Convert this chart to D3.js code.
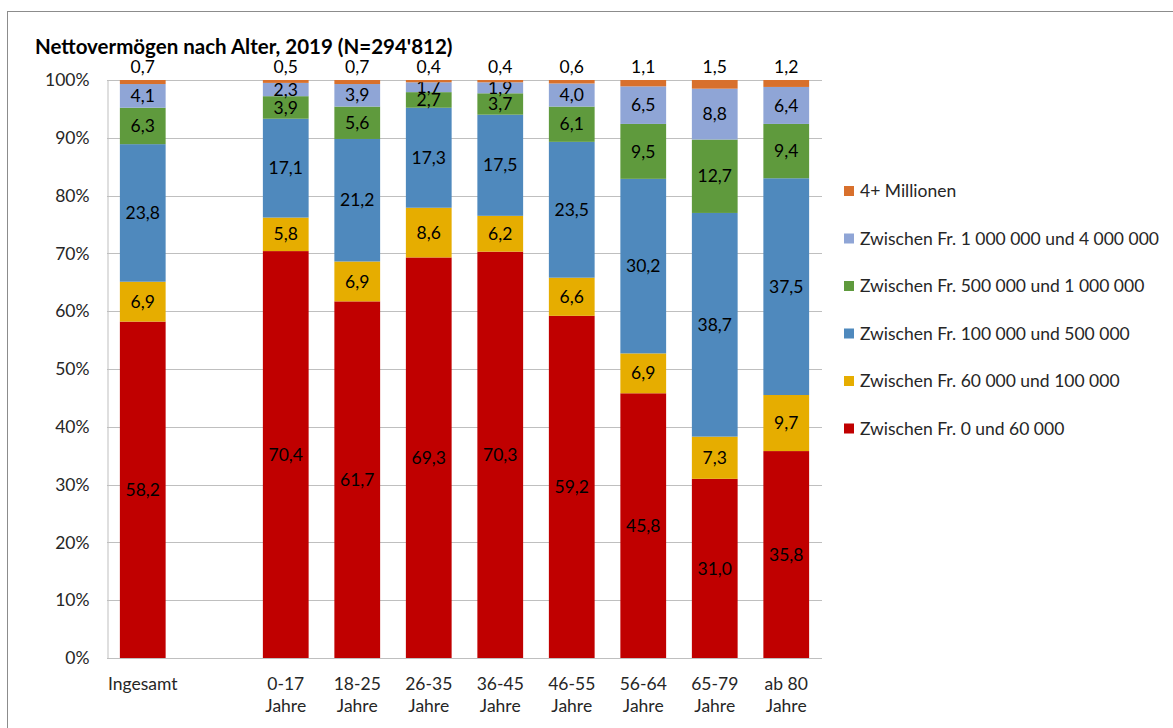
<!DOCTYPE html>
<html>
<head>
<meta charset="utf-8">
<script src="https://cdn.jsdelivr.net/npm/d3@7"></script>
<style>
  body { margin: 0; background: #fff; }
  svg text { font-family: Lato, "Open Sans", sans-serif; fill: #262626; }
</style>
</head>
<body>
<svg class="chart"></svg>
<script>
var width = 1173,
    height = 728;

// categories ("" is the empty slot between Ingesamt and the age groups)
var categories = ["Ingesamt", "", "0-17 Jahre", "18-25 Jahre", "26-35 Jahre", "36-45 Jahre",
                  "46-55 Jahre", "56-64 Jahre", "65-79 Jahre", "ab 80 Jahre"];
var bars = ["Ingesamt", "0-17 Jahre", "18-25 Jahre", "26-35 Jahre", "36-45 Jahre",
            "46-55 Jahre", "56-64 Jahre", "65-79 Jahre", "ab 80 Jahre"];

// series, bottom to top
var seriesNames = ["Zwischen Fr. 0 und 60 000", "Zwischen Fr. 60 000 und 100 000",
                   "Zwischen Fr. 100 000 und 500 000", "Zwischen Fr. 500 000 und 1 000 000",
                   "Zwischen Fr. 1 000 000 und 4 000 000", "4+ Millionen"];
var s0to60k     = [58.2, 70.4, 61.7, 69.3, 70.3, 59.2, 45.8, 31.0, 35.8];
var s60to100k   = [6.9, 5.8, 6.9, 8.6, 6.2, 6.6, 6.9, 7.3, 9.7];
var s100to500k  = [23.8, 17.1, 21.2, 17.3, 17.5, 23.5, 30.2, 38.7, 37.5];
var s500kto1m   = [6.3, 3.9, 5.6, 2.7, 3.7, 6.1, 9.5, 12.7, 9.4];
var s1mto4m     = [4.1, 2.3, 3.9, 1.7, 1.9, 4.0, 6.5, 8.8, 6.4];
var s4mplus     = [0.7, 0.5, 0.7, 0.4, 0.4, 0.6, 1.1, 1.5, 1.2];
var colors = ["#c00000", "#e6ad00", "#4f89bd", "#5f9a3d", "#8fa5d6", "#d8702c"];
var yTicks = [0, 10, 20, 30, 40, 50, 60, 70, 80, 90, 100];

var allSeries = [s0to60k, s60to100k, s100to500k, s500kto1m, s1mto4m, s4mplus];

var table = bars.map(function(b, i) {
  var row = { cat: b };
  allSeries.forEach(function(s, k) { row[k] = s[i]; });
  return row;
});

var plot = { left: 107, right: 822, top: 80, bottom: 658 };
var fs = 17.5; // base font size

var chart = d3.select(".chart")
    .attr("width", width)
    .attr("height", height);

// outer frame
chart.append("rect")
  .attr("x", 7.5).attr("y", 11.5)
  .attr("width", width + 10).attr("height", height)
  .attr("fill", "none")
  .attr("stroke", "#8c8c8c");

chart.append("text")
  .attr("x", 35).attr("y", 54)
  .attr("font-size", 20.5).attr("font-weight", "bold")
  .style("fill", "#000")
  .text("Nettovermögen nach Alter, 2019 (N=294'812)");

var x = d3.scaleBand().domain(categories)
    .range([plot.left, plot.right]).paddingInner(0.36).paddingOuter(0.18);
var y = d3.scaleLinear().domain([0, 100]).range([plot.bottom, plot.top]);

// gridlines
chart.append("g").selectAll("line")
  .data(yTicks.filter(function(t) { return t > 0; }))
  .enter().append("line")
  .attr("x1", plot.left).attr("x2", plot.right)
  .attr("y1", function(d) { return Math.round(y(d)) + 0.5; })
  .attr("y2", function(d) { return Math.round(y(d)) + 0.5; })
  .attr("stroke", "#bfbfbf");

// y axis
var yAxis = chart.append("g")
  .attr("transform", "translate(" + (plot.left + 0.5) + ",0)")
  .call(d3.axisLeft(y).tickValues(yTicks).tickSize(0).tickPadding(18)
        .tickFormat(function(d) { return d + "%"; }));
yAxis.select(".domain").attr("stroke", "#bfbfbf");
yAxis.selectAll("text").attr("font-size", fs).style("font-family", "Lato, sans-serif").style("fill", "#262626");

// x axis line
chart.append("line")
  .attr("x1", plot.left).attr("x2", plot.right)
  .attr("y1", plot.bottom + 0.5).attr("y2", plot.bottom + 0.5)
  .attr("stroke", "#bfbfbf");

// x labels (two lines)
var xl = chart.append("g").selectAll("text")
  .data(bars).enter().append("text")
  .attr("text-anchor", "middle")
  .attr("font-size", fs)
  .attr("x", function(d) { return x(d) + x.bandwidth() / 2; })
  .attr("y", 690);
xl.each(function(d) {
  var parts = d === "Ingesamt" ? [d] : [d.replace(" Jahre", ""), "Jahre"];
  d3.select(this).selectAll("tspan").data(parts).enter().append("tspan")
    .attr("x", x(d) + x.bandwidth() / 2)
    .attr("dy", function(p, i) { return i === 0 ? 0 : 22; })
    .text(function(p) { return p; });
});

var stacked = d3.stack().keys(d3.range(allSeries.length))(table);

var fmt = function(v) { return v.toFixed(1).replace(".", ","); };

var layer = chart.selectAll(".layer")
  .data(stacked).enter().append("g")
  .attr("fill", function(d, i) { return colors[i]; });

layer.selectAll("rect")
  .data(function(d) { return d; })
  .enter().append("rect")
  .attr("x", function(d) { return x(d.data.cat); })
  .attr("width", x.bandwidth())
  .attr("y", function(d) { return y(d[1]); })
  .attr("height", function(d) { return y(d[0]) - y(d[1]); });

layer.each(function(s, k) {
  d3.select(this).selectAll("text.val")
    .data(s).enter().append("text")
    .attr("class", "val")
    .attr("text-anchor", "middle")
    .attr("font-size", fs)
    .style("fill", "#000")
    .attr("x", function(d) { return x(d.data.cat) + x.bandwidth() / 2; })
    .attr("y", function(d) {
      if (k === allSeries.length - 1) return y(d[1]) - 13;
      return (y(d[0]) + y(d[1])) / 2;
    })
    .attr("dy", "0.35em")
    .text(function(d) { return fmt(d[1] - d[0]); });
});

// legend, top entry is the last series
var legend = chart.append("g").selectAll("g")
  .data(seriesNames.slice().reverse()).enter().append("g")
  .attr("transform", function(d, i) { return "translate(844," + (191 + i * 47.5) + ")"; });
legend.append("rect")
  .attr("x", 0).attr("y", -5).attr("width", 10).attr("height", 10)
  .attr("fill", function(d, i) { return colors[colors.length - 1 - i]; });
legend.append("text")
  .attr("x", 16).attr("dy", "0.35em")
  .attr("font-size", fs)
  .text(function(d) { return d; });
</script>
</body>
</html>
